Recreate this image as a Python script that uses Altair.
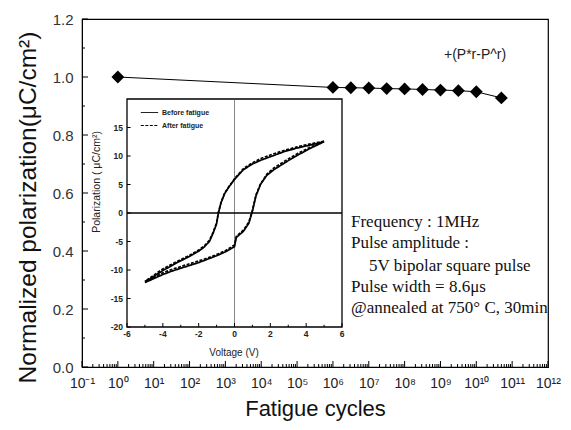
import altair as alt
import pandas as pd

# ---------------- main series ----------------
cycles = [1, 1e6, 3.16e6, 1e7, 3.16e7, 1e8, 3.16e8, 1e9, 3.16e9, 1e10, 5e10]
norm_pol = [1.0, 0.964, 0.963, 0.962, 0.960, 0.959, 0.957, 0.955, 0.953, 0.949, 0.928]

x_exps = list(range(-1, 13))
x_labels = ["10⁻¹", "10⁰", "10¹", "10²", "10³", "10⁴", "10⁵", "10⁶",
            "10⁷", "10⁸", "10⁹", "10¹⁰", "10¹¹", "10¹²"]
y_ticks = [0.0, 0.2, 0.4, 0.6, 0.8, 1.0, 1.2]
y_minor = [0.1, 0.3, 0.5, 0.7, 0.9, 1.1]

# ---------------- inset: P-V hysteresis loops ----------------
up_v = [-5.0, -4.5, -4.0, -3.5, -3.0, -2.5, -2.0, -1.5, -1.0, -0.5, 0.0, 0.1,
        0.5, 0.8, 1.0, 1.2, 1.45, 1.8, 2.2, 2.8, 3.5, 4.2, 5.0]
down_v = [5.0, 4.2, 3.5, 2.8, 2.2, 1.5, 1.0, 0.5, 0.0, -0.3, -0.55, -0.75,
          -0.9, -1.0, -1.2, -1.4, -1.7, -2.0, -2.5, -3.2, -4.0, -4.5, -5.0]
before_up_p = [-12.2, -11.5, -10.8, -10.2, -9.7, -9.2, -8.7, -8.1, -7.5, -6.8,
               -5.9, -4.3, -3.2, -1.8, 0.3, 3.0, 5.0, 6.6, 7.6, 8.8, 10.1, 11.3, 12.5]
before_down_p = [12.5, 11.9, 11.4, 10.8, 10.1, 9.3, 8.6, 7.6, 5.9, 4.6, 3.4, 1.8,
                 0.0, -1.9, -3.6, -5.0, -6.0, -6.7, -7.6, -8.7, -10.1, -11.1, -12.2]
after_up_p = [-12.0, -11.3, -10.5, -9.9, -9.4, -8.9, -8.4, -7.9, -7.3, -6.6,
              -5.6, -4.1, -3.0, -1.6, 0.5, 3.2, 5.1, 6.8, 7.9, 9.1, 10.4, 11.5, 12.6]
after_down_p = [12.6, 12.1, 11.6, 11.0, 10.4, 9.6, 8.8, 7.8, 6.0, 4.7, 3.5, 1.9,
                0.1, -1.8, -3.4, -4.8, -5.8, -6.5, -7.4, -8.5, -9.8, -10.9, -12.0]
series_names = ["Before fatigue", "After fatigue"]

inset_x_ticks = [-6, -4, -2, 0, 2, 4, 6]
inset_x_minor = [-5, -3, -1, 1, 3, 5]
inset_y_ticks = [-20, -15, -10, -5, 0, 5, 10, 15]

info_lines = ["Frequency : 1MHz", "Pulse amplitude :", "5V bipolar square pulse",
              "Pulse width = 8.6μs", "@annealed at 750° C, 30min"]
peak_label = "+(P*r-P^r)"

# ---------------- build tables ----------------
W, H = 466, 348
main_df = pd.DataFrame({"cycles": cycles, "pol": norm_pol})
x_major = [10.0 ** e for e in x_exps]
x_minor = [m * 10.0 ** e for e in range(-1, 12) for m in range(2, 10)]

rows = []
for name, up_p, down_p in [(series_names[0], before_up_p, before_down_p),
                           (series_names[1], after_up_p, after_down_p)]:
    i = 0
    for v, p in list(zip(up_v, up_p)) + list(zip(down_v, down_p)):
        rows.append({"V": v, "P": p, "series": name, "idx": i})
        i += 1
loop_df = pd.DataFrame(rows)

FONT = "Liberation Sans"
SERIF = "Liberation Serif"
label_arr = "[" + ",".join("'%s'" % s for s in x_labels) + "]"

xs = alt.Scale(type="log", domain=[0.1, 1e12], nice=False)
ys = alt.Scale(domain=[0, 1.2], nice=False, zero=False)

x_axis = alt.Axis(values=x_major, labelExpr=label_arr + "[round(log(datum.value)/LN10)+1]",
                  ticks=False, grid=False, domainColor="black", labelFont=FONT,
                  labelFontSize=14, labelColor="#222", labelPadding=9, labelFlush=False,
                  labelOverlap=False, title="Fatigue cycles", titleFont=FONT,
                  titleFontSize=22, titleFontWeight="normal", titleColor="#111",
                  titlePadding=8)
y_axis = alt.Axis(values=y_ticks, format=".1f", ticks=False, grid=False,
                  domainColor="black", labelFont=FONT, labelFontSize=15,
                  labelColor="#333", labelPadding=9, labelOverlap=False,
                  title="Normalized polarization(μC/cm²)", titleFont=FONT,
                  titleFontSize=24.5, titleFontWeight="normal", titleColor="#111",
                  titlePadding=12, titleY=188)

line = alt.Chart(main_df).mark_line(color="black", strokeWidth=1).encode(
    x=alt.X("cycles:Q", scale=xs, axis=x_axis),
    y=alt.Y("pol:Q", scale=ys, axis=y_axis))
pts = alt.Chart(main_df).mark_point(shape="diamond", filled=True, color="black",
                                    size=165, opacity=1).encode(
    x=alt.X("cycles:Q"), y=alt.Y("pol:Q"))

xt_major = alt.Chart(pd.DataFrame({"cycles": x_major})).mark_rule(color="black").encode(
    x=alt.X("cycles:Q"), y=alt.value(H), y2=alt.value(H - 6))
xt_minor = alt.Chart(pd.DataFrame({"cycles": x_minor})).mark_rule(color="black").encode(
    x=alt.X("cycles:Q"), y=alt.value(H), y2=alt.value(H - 3))
yt_major = alt.Chart(pd.DataFrame({"pol": y_ticks})).mark_rule(color="black").encode(
    y=alt.Y("pol:Q"), x=alt.value(0), x2=alt.value(6))
yt_minor = alt.Chart(pd.DataFrame({"pol": y_minor})).mark_rule(color="black").encode(
    y=alt.Y("pol:Q"), x=alt.value(0), x2=alt.value(3))

one = pd.DataFrame({"a": [0]})
peak_txt = alt.Chart(one).mark_text(align="left", baseline="middle", font=FONT,
                                    fontSize=14, color="#222").encode(
    x=alt.value(362), y=alt.value(36), text=alt.value(peak_label))

info_x = [269, 269, 287, 269, 269]
info_y = [203, 224, 247, 268, 289]
info_layers = [
    alt.Chart(one).mark_text(align="left", baseline="middle", font=SERIF,
                             fontSize=17, color="#111").encode(
        x=alt.value(xx), y=alt.value(yy), text=alt.value(t))
    for t, xx, yy in zip(info_lines, info_x, info_y)
]

main_layer = alt.layer(line, xt_major, xt_minor, yt_major, yt_minor, pts,
                       peak_txt, *info_layers)

# ---------------- inset ----------------
ixs = alt.Scale(domain=[-6, 6], range=[45, 260], nice=False, zero=False)
iys = alt.Scale(domain=[-20, 20], range=[308, 80], nice=False, zero=False)

frame = alt.Chart(pd.DataFrame({"V": [-6], "V2": [6], "P": [-20], "P2": [20]})).mark_rect(
    fill="white", stroke="black", strokeWidth=1.3).encode(
    x=alt.X("V:Q", scale=ixs, axis=None), x2="V2:Q",
    y=alt.Y("P:Q", scale=iys, axis=None), y2="P2:Q")
zero_h = alt.Chart(pd.DataFrame({"V": [-6], "V2": [6], "P": [0]})).mark_rule(
    color="black", strokeWidth=1.5).encode(x="V:Q", x2="V2:Q", y="P:Q")
zero_v = alt.Chart(pd.DataFrame({"V": [0], "P": [-20], "P2": [20]})).mark_rule(
    color="#555", strokeWidth=0.7).encode(x="V:Q", y="P:Q", y2="P2:Q")

ixt = alt.Chart(pd.DataFrame({"V": inset_x_ticks, "P": [-20] * 7, "P2": [-19.3] * 7})).mark_rule(
    color="black").encode(x="V:Q", y="P:Q", y2="P2:Q")
ixm = alt.Chart(pd.DataFrame({"V": inset_x_minor, "P": [-20] * 6, "P2": [-19.6] * 6})).mark_rule(
    color="black").encode(x="V:Q", y="P:Q", y2="P2:Q")
iyt = alt.Chart(pd.DataFrame({"P": inset_y_ticks, "V": [-6] * 8, "V2": [-5.8] * 8})).mark_rule(
    color="black").encode(y="P:Q", x="V:Q", x2="V2:Q")

ixl = alt.Chart(pd.DataFrame({"V": inset_x_ticks, "P": [-20] * 7,
                              "t": [str(v) for v in inset_x_ticks]})).mark_text(
    baseline="top", dy=3, font=FONT, fontSize=8.5, fontWeight="bold", color="#222").encode(
    x="V:Q", y="P:Q", text="t:N")
iyl = alt.Chart(pd.DataFrame({"P": inset_y_ticks, "V": [-6] * 8,
                              "t": [str(v) for v in inset_y_ticks]})).mark_text(
    align="right", baseline="middle", dx=-4, font=FONT, fontSize=8.5, fontWeight="bold",
    color="#222").encode(x="V:Q", y="P:Q", text="t:N")

ixtitle = alt.Chart(one).mark_text(baseline="middle", font=FONT, fontSize=10,
                                   color="#222").encode(
    x=alt.value(152), y=alt.value(334), text=alt.value("Voltage (V)"))
iytitle = alt.Chart(one).mark_text(baseline="middle", angle=270, font=FONT, fontSize=10.5,
                                   color="#222").encode(
    x=alt.value(15), y=alt.value(163), text=alt.value("Polarization ( μC/cm²)"))

loops = alt.Chart(loop_df).mark_line(color="black", strokeWidth=1.7).encode(
    x="V:Q", y="P:Q", order="idx:Q",
    strokeDash=alt.StrokeDash(
        "series:N",
        scale=alt.Scale(domain=series_names, range=[[1, 0], [3, 1.5]]),
        legend=alt.Legend(orient="none", legendX=58, legendY=84, title=None,
                          labelFont=FONT, labelFontSize=7, labelFontWeight="bold",
                          labelColor="#222", symbolType="stroke", symbolSize=300,
                          symbolStrokeColor="black", symbolStrokeWidth=1,
                          rowPadding=0, labelOffset=3)))

inset_layer = alt.layer(frame, zero_v, zero_h, ixt, ixm, iyt, ixl, iyl,
                        ixtitle, iytitle, loops)

chart = alt.layer(main_layer, inset_layer).resolve_scale(
    x="independent", y="independent").properties(
    width=W, height=H,
    padding={"left": 82, "top": 19, "right": 23, "bottom": 63},
    autosize=alt.AutoSizeParams(type="none"),
    background="white",
).configure_view(stroke="black", strokeWidth=1.2)

chart.save("out.html", embed_options={"renderer": "svg", "actions": False})
